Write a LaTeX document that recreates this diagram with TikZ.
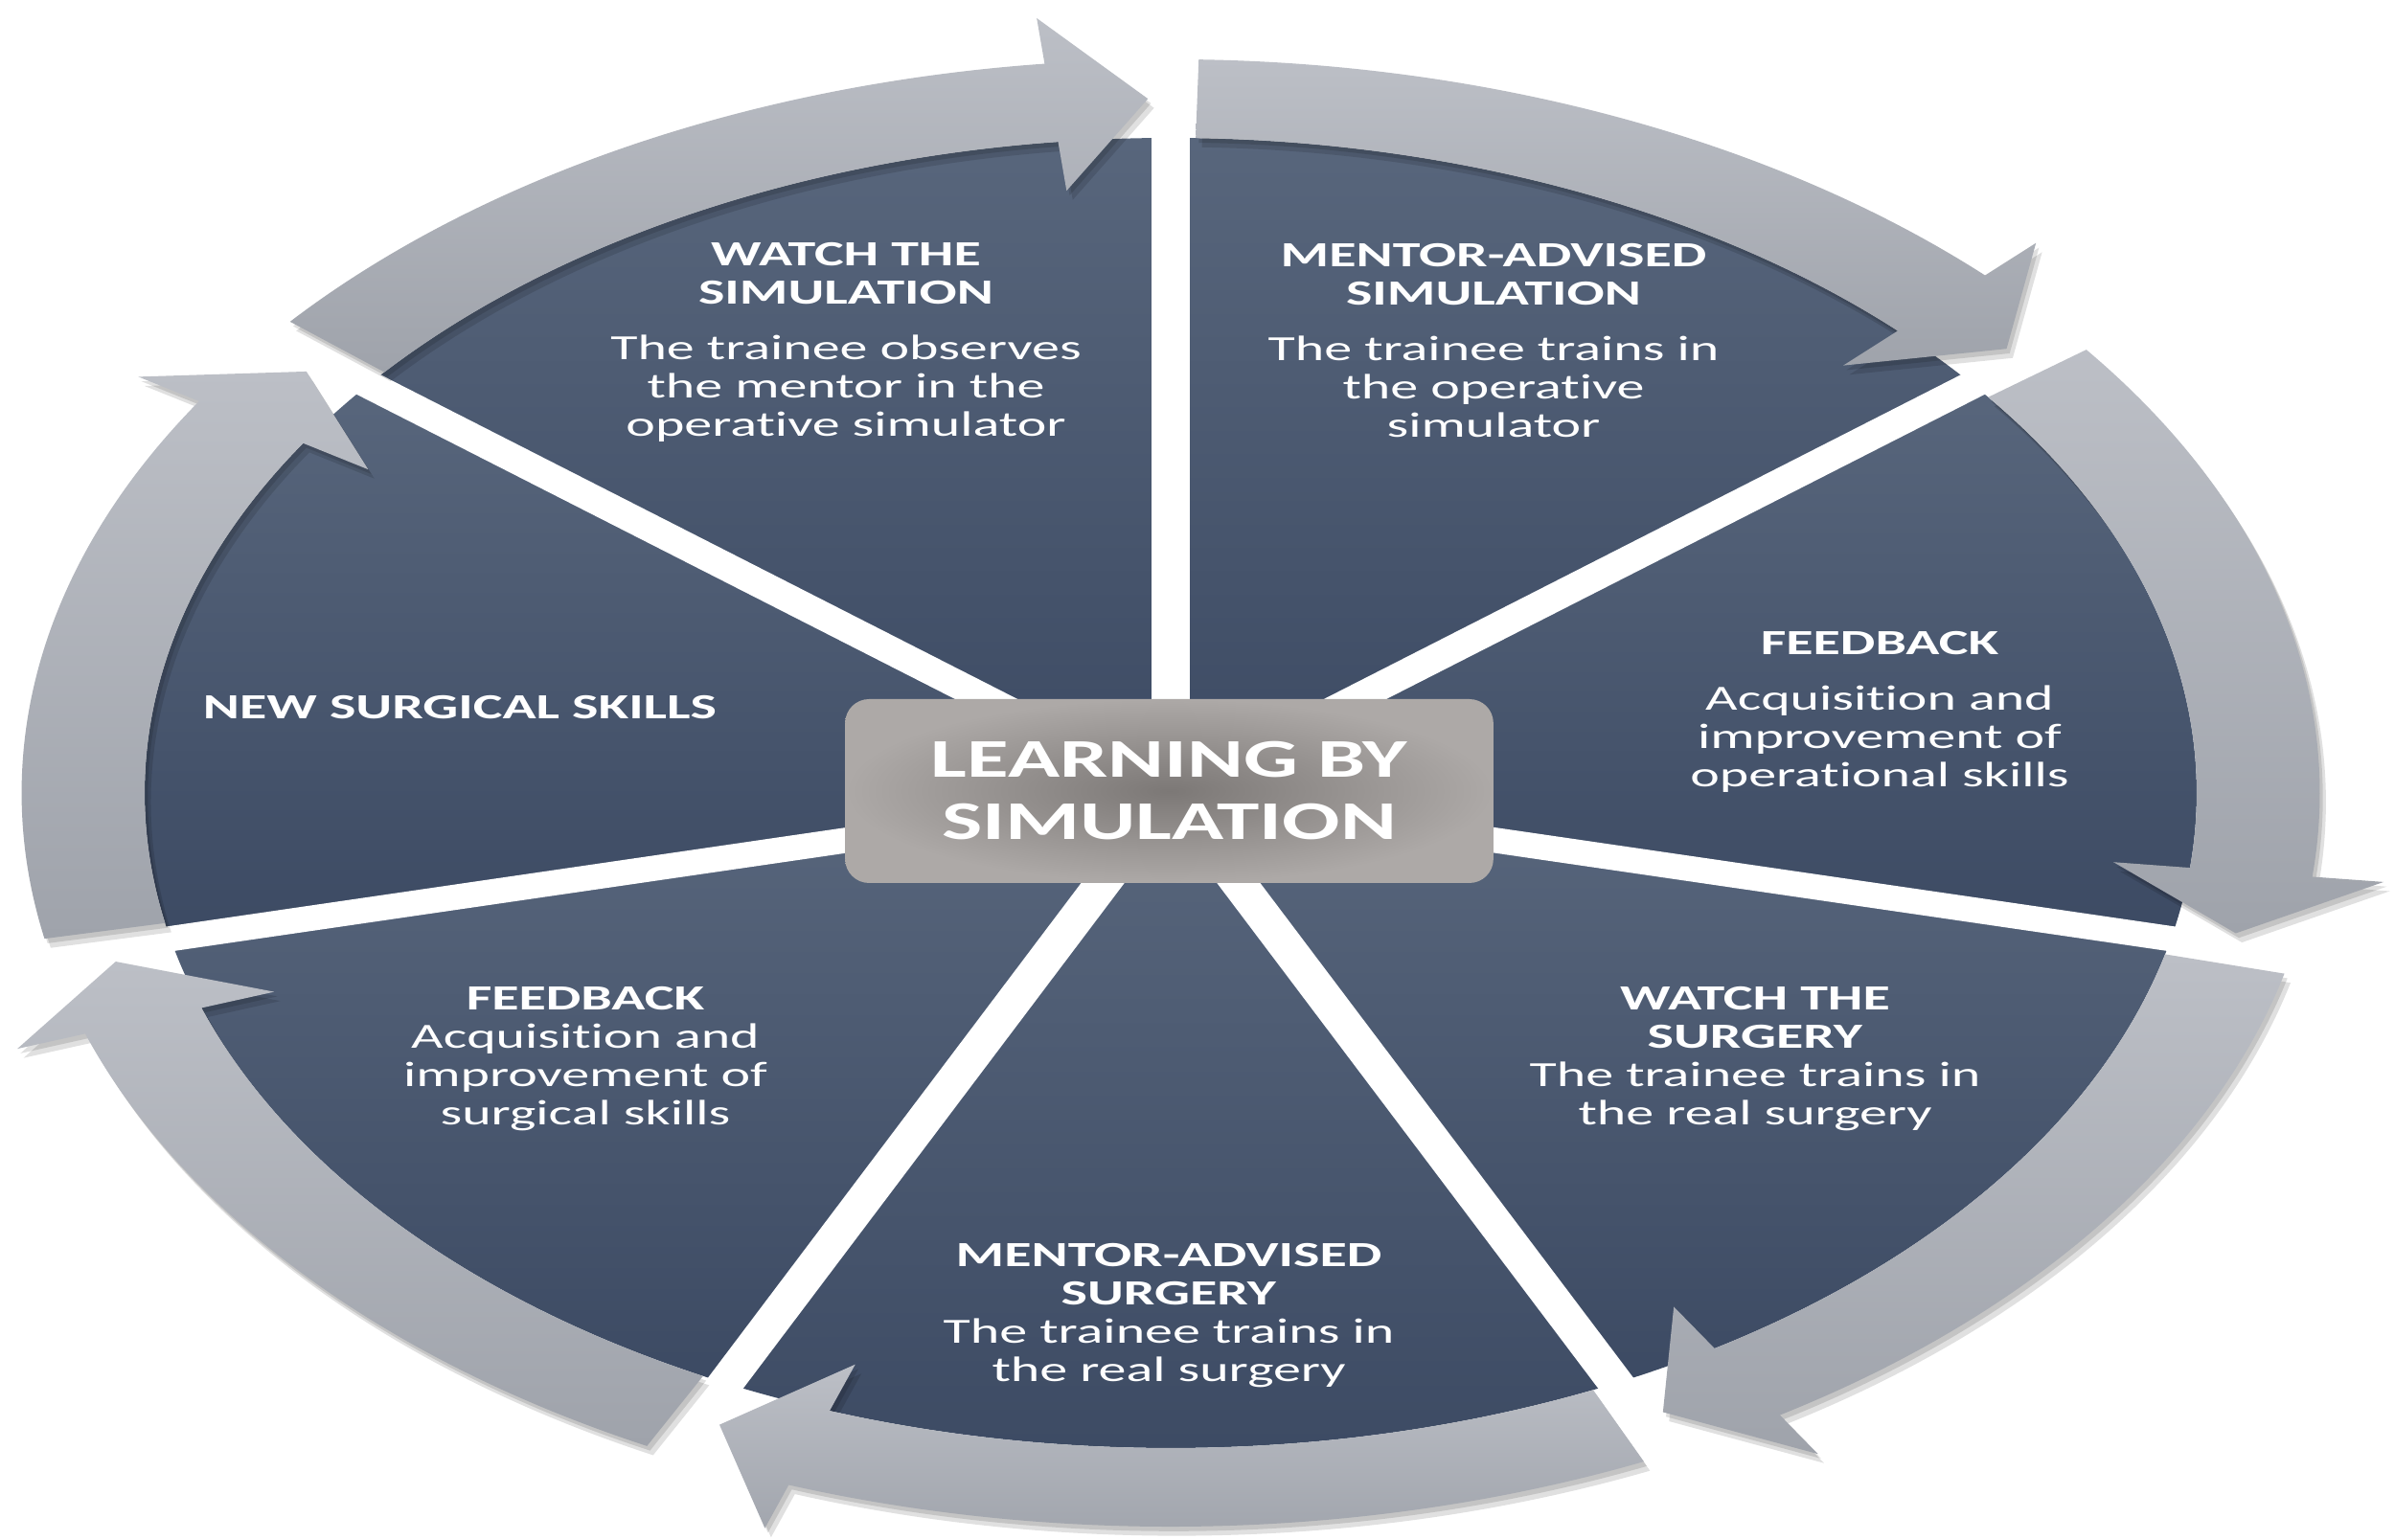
\documentclass[tikz,border=0pt]{standalone}
\usepackage{fontspec}
\setmainfont{Carlito}[Ligatures=NoCommon]
\definecolor{segtop}{HTML}{58667C}
\definecolor{segbot}{HTML}{3C4A63}
\definecolor{arrtop}{HTML}{BCBFC6}
\definecolor{arrbot}{HTML}{9FA3AB}
\definecolor{boxin}{HTML}{7C7876}
\definecolor{boxout}{HTML}{ADA9A7}
\newcommand\ArrowShape{(\angT:1.12) arc[start angle=\angT, end angle=\angP, radius=1.12] -- (\angP:1.19) -- (\angH:1.06) -- (\angP:0.925) -- (\angP:1) arc[start angle=\angP, end angle=\angT, radius=1] -- cycle}
\begin{document}
\begin{tikzpicture}[
  seg/.style={font=\fontsize{10.5}{11.4}\selectfont, text=white, align=center, xscale=1.57, anchor=base, inner sep=0pt},
  centerbox/.style={rounded corners=0.25cm, minimum width=4.31cm, minimum height=1.92cm, inner color=boxin, outer color=boxout, text=white, font=\fontsize{16.2}{18.5}\selectfont\bfseries, align=center, xscale=1.57, inner sep=0pt},
  sector/.style={top color=segtop, bottom color=segbot},
  arrowbody/.style={top color=arrtop, bottom color=arrbot},
  arrowshadow/.style={fill=black, opacity=0.12}
]
\useasboundingbox (0,0) rectangle (25,16.08);
\fill[white] (0,0) rectangle (25,16.08);
\begin{scope}[shift={(12.22,7.80)}, xscale=10.71, yscale=6.84]
  % dark sectors
  \foreach \i in {0,...,6}{
    \pgfmathsetmacro\angA{141.4286-\i*51.4286}
    \pgfmathsetmacro\angB{\angA-51.4286}
    \shade[sector] (0,0) -- (\angA:1) arc[start angle=\angA, end angle=\angB, radius=1] -- cycle;
  }
  % white gaps along the spokes
  \foreach \i in {0,...,6}{
    \pgfmathsetmacro\angA{90-\i*51.4286}
    \fill[white, rotate=\angA] (-0.05,-0.019) rectangle (1.01,0.019);
  }
  % curved arrows
  \foreach \i in {0,...,6}{
    \pgfmathsetmacro\angA{141.4286-\i*51.4286}
    \pgfmathsetmacro\angB{\angA-51.4286}
    \pgfmathsetmacro\angT{\angA-1.4}
    \pgfmathsetmacro\angP{\angB+6.3}
    \pgfmathsetmacro\angH{\angB+1.2}
    \fill[arrowshadow, shift={(0.003,-0.007)}] \ArrowShape;
    \fill[arrowshadow, shift={(0.006,-0.014)}] \ArrowShape;
    \shade[arrowbody] \ArrowShape;
  }
\end{scope}

\node[centerbox] (hub) at (12.205,7.82) {LEARNING BY\\SIMULATION};

\node[seg] (watchsim) at (8.83,11.52) {\textbf{WATCH THE}\\\textbf{SIMULATION}\\[0.18cm]The trainee observes\\the mentor in the\\operative simulator};
\node[seg] (mentorsim) at (15.59,11.51) {\textbf{MENTOR-ADVISED}\\\textbf{SIMULATION}\\[0.18cm]The trainee trains in\\the operative\\simulator};
\node[seg] (feedbackop) at (19.62,7.86) {\textbf{FEEDBACK}\\[0.18cm]Acquisition and\\improvement of\\operational skills};
\node[seg] (newskills) at (4.80,8.57) {\textbf{NEW SURGICAL SKILLS}};
\node[seg] (feedbacksurg) at (6.11,4.33) {\textbf{FEEDBACK}\\Acquisition and\\improvement of\\surgical skills};
\node[seg] (watchsurg) at (18.32,4.33) {\textbf{WATCH THE}\\\textbf{SURGERY}\\The trainee trains in\\the real surgery};
\node[seg] (mentorsurg) at (12.20,1.65) {\textbf{MENTOR-ADVISED}\\\textbf{SURGERY}\\The trainee trains in\\the real surgery};
\end{tikzpicture}
\end{document}
